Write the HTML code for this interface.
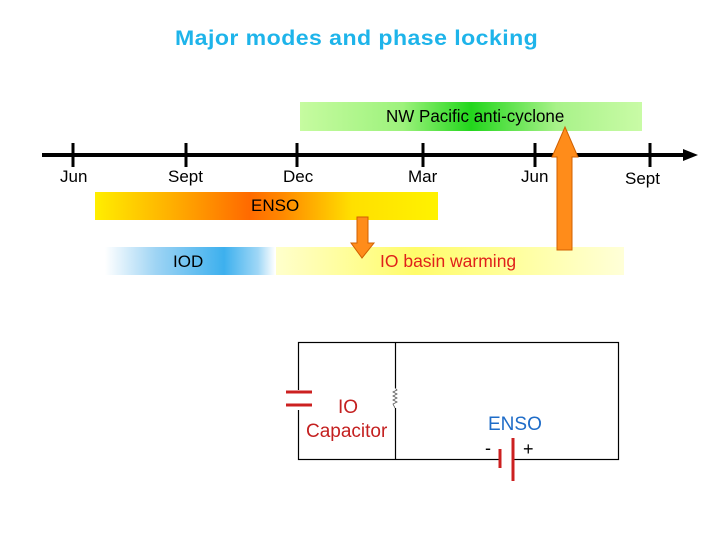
<!DOCTYPE html>
<html><head><style>
body{margin:0;width:720px;height:540px;background:#fff;position:relative;font-family:"Liberation Sans",sans-serif;overflow:hidden}
.t{position:absolute;white-space:nowrap}
.bar{position:absolute}
</style></head><body>
<div class="t" style="left:175px;top:27px;font-size:21px;color:#1eb4ea;font-weight:bold;letter-spacing:0.4px;transform:scaleX(1.1);transform-origin:left">Major modes and phase locking</div>

<div class="bar" style="left:300px;top:102px;width:342px;height:29px;background:linear-gradient(90deg,#c6fba0,#9df27c 30%,#22d61c 50%,#a8f289 75%,#c9fba6)"></div>
<div class="t" style="left:386px;top:106px;font-size:17.5px;transform:scaleX(0.97);transform-origin:left">NW Pacific anti-cyclone</div>

<div class="bar" style="left:95px;top:192px;width:343px;height:28px;background:linear-gradient(90deg,#ffee00,#ffb000 22%,#ff6a00 45%,#ff8a00 55%,#ffe000 75%,#fff200)"></div>
<div class="t" style="left:251px;top:196px;font-size:17px">ENSO</div>

<div class="bar" style="left:105px;top:247px;width:170px;height:28px;background:linear-gradient(90deg,#ffffff,#9ed4f4 30%,#3db0ee 70%,#9fd7f6 90%,#fff)"></div>
<div class="t" style="left:173px;top:252px;font-size:17px">IOD</div>
<div class="bar" style="left:276px;top:247px;width:348px;height:28px;background:linear-gradient(90deg,#ffffcc,#fffc6a 40%,#ffffa0 70%,#ffffd8)"></div>
<div class="t" style="left:380px;top:251px;font-size:17.5px;color:#e0201a">IO basin warming</div>

<svg width="720" height="540" style="position:absolute;left:0;top:0">
<line x1="42" y1="155" x2="688" y2="155" stroke="#000" stroke-width="4"/>
<polygon points="683,149 698,155 683,161" fill="#000"/>
<g stroke="#000" stroke-width="3">
<line x1="73" y1="143" x2="73" y2="167"/><line x1="186" y1="143" x2="186" y2="167"/>
<line x1="297" y1="143" x2="297" y2="167"/><line x1="423" y1="143" x2="423" y2="167"/>
<line x1="535" y1="143" x2="535" y2="167"/><line x1="650" y1="143" x2="650" y2="167"/>
</g>
<polygon points="357,217 368,217 368,243 374,243 362,258 351,243 357,243" fill="#ff8c1a" stroke="#d06000"/>
<polygon points="557,250 572,250 572,157 578,157 565,127 552,157 557,157" fill="#ff8c1a" stroke="#d06000"/>
<rect x="298.5" y="342.5" width="320" height="117" fill="none" stroke="#000" stroke-width="1.2"/>
<line x1="395.5" y1="342" x2="395.5" y2="459" stroke="#000" stroke-width="1.2"/>
<rect x="392" y="388" width="8" height="20" fill="#fff"/>
<polyline points="395,388 397,390 393,392 397,394 393,396 397,398 393,400 397,402 393,404 395,408" fill="none" stroke="#555" stroke-width="0.8"/>
<rect x="285" y="390" width="28" height="20" fill="#fff"/>
<line x1="286" y1="392" x2="312" y2="392" stroke="#cc2020" stroke-width="3"/>
<line x1="286" y1="405" x2="312" y2="405" stroke="#cc2020" stroke-width="3"/>
<line x1="500" y1="449" x2="500" y2="468" stroke="#cc2020" stroke-width="3"/>
<line x1="513" y1="438" x2="513" y2="481" stroke="#cc2020" stroke-width="3"/>
<rect x="501.5" y="456" width="10" height="6" fill="#fff"/>
</svg>

<div class="t" style="left:60px;top:167px;font-size:17px">Jun</div>
<div class="t" style="left:168px;top:167px;font-size:17px">Sept</div>
<div class="t" style="left:283px;top:167px;font-size:17px">Dec</div>
<div class="t" style="left:408px;top:167px;font-size:17px">Mar</div>
<div class="t" style="left:521px;top:167px;font-size:17px">Jun</div>
<div class="t" style="left:625px;top:169px;font-size:17px">Sept</div>

<div class="t" style="left:338px;top:397px;font-size:19px;color:#c42020">IO</div>
<div class="t" style="left:306px;top:421px;font-size:19px;color:#c42020">Capacitor</div>
<div class="t" style="left:488px;top:414px;font-size:19px;color:#1e6cc8">ENSO</div>
<div class="t" style="left:485px;top:438px;font-size:18px">-</div>
<div class="t" style="left:523px;top:439px;font-size:18px">+</div>
</body></html>
